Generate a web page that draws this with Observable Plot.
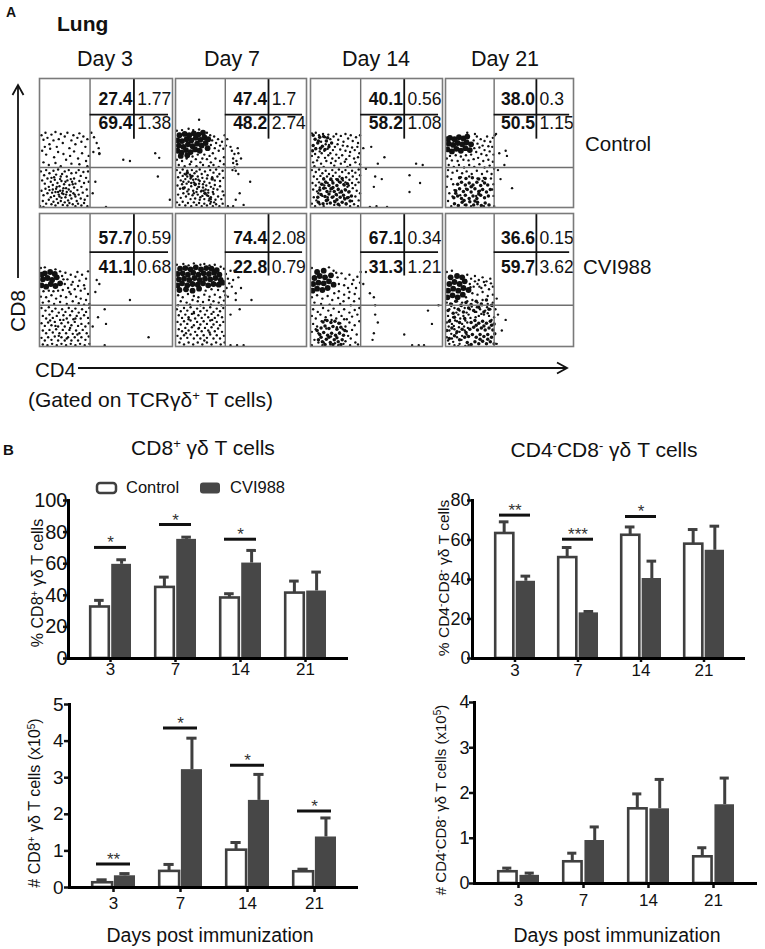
<!DOCTYPE html>
<html><head><meta charset="utf-8">
<script src="https://cdn.jsdelivr.net/npm/d3@7"></script>
<script src="https://cdn.jsdelivr.net/npm/@observablehq/plot@0.6"></script>
<style>
body{margin:0;background:#fff;}
#fig{position:relative;width:765px;height:949px;overflow:hidden;background:#fff;}
#fig svg{position:absolute;overflow:visible;}
</style></head><body><div id="fig"></div>
<script>
const FONT = '"Liberation Sans", Arial, Helvetica, sans-serif';
const NARROW = '"Liberation Sans Narrow", "Arial Narrow", "Liberation Sans", Arial, sans-serif';

// ---------- Panel A: flow cytometry quadrant percentages ----------
const dayLabels = ["Day 3", "Day 7", "Day 14", "Day 21"];
const controlTopLeft = ["27.4", "47.4", "40.1", "38.0"];
const controlTopRight = ["1.77", "1.7", "0.56", "0.3"];
const controlBottomLeft = ["69.4", "48.2", "58.2", "50.5"];
const controlBottomRight = ["1.38", "2.74", "1.08", "1.15"];
const cviTopLeft = ["57.7", "74.4", "67.1", "36.6"];
const cviTopRight = ["0.59", "2.08", "0.34", "0.15"];
const cviBottomLeft = ["41.1", "22.8", "31.3", "59.7"];
const cviBottomRight = ["0.68", "0.79", "1.21", "3.62"];

// dot clouds (CD4 on x, CD8 on y, 0-100 display units)
// cloud = single events, mid = dense speckle, core = near-solid clusters
const c3Core = [], c3Mid = [];
const c3Cloud = [[1.5,56],[3,52.5],[4.5,58],[6,54],[7.5,49],[9,56.5],[10.5,52],[12,58.5],[13,47],[14.5,53],[16,57],[17.5,50],[19,55],[21,58],[22.5,46],[24,52],[25.5,56],[27,49],[28.5,54],[30,57.5],[31.5,51],[33,55],[34.5,47],[36,53],[2,44],[5,41],[8,45.5],[11,39],[14,43],[18,41.5],[20,37],[23,40],[26,43.5],[29,38],[32,42],[35,36],[37,40],[3,35],[7,33],[12,34.5],[16,32],[24,34],[30,33.5],[36,32],[39,58],[41,54.5],[43,50],[44.5,46],[40.5,43],[45,41.5],[63,37],[68,36],[87,42],[90,38.5],[4,47],
[1,28],[3.5,25],[5,29],[7.5,26.5],[9,23],[10.5,28.5],[12.5,25.5],[14,29.5],[15.5,22],[17,26],[19,28],[20.5,24],[22,29],[24,26.5],[26,22.5],[27.5,27],[29.5,29],[31,24.5],[33,27.5],[35,23],[36.5,28],
[2,21],[4,18.5],[6,22.5],[7,16],[8.5,20],[10,17.5],[11.5,21.5],[12.5,14.5],[13.5,19],[15,16.5],[16.5,20.5],[17.5,13],[18.5,18],[20,15],[21,21],[22.5,17.5],[23.5,12.5],[24.5,20],[26,15.5],[27,18.5],[28.5,13.5],[30,20.5],[31.5,16],[33.5,19],[35.5,14],[37,20],
[1.5,13],[3,9.5],[4.5,14.5],[6,11],[7.5,13.5],[8.5,8],[9.5,11.5],[11,9],[12,12],[13,6.5],[14.5,10],[15.5,13],[16.5,7.5],[18,10.5],[19.5,8],[20.5,12],[21.5,5.5],[23,9.5],[24,7],[25.5,11],[27,8.5],[28,5],[29.5,10],[31,7],[32.5,11.5],[34,6],[36,9],
[2.5,5],[5,3],[7,6],[9,2.5],[10.5,4.5],[12,1.5],[14,3.5],[16,5],[17.5,2],[19,4],[21,1.5],[22.5,3.5],[25,2.5],[27,1],[29,3],[31.5,1.5],[33.5,3.5],[36,1],[0.5,1],[3,0.5],
[11,23.5],[16,24],[19.5,20],[14,12],[10,14],[22,14],[25,18],[18,15],[13,16],[20,10],[17,11],[15,8.5],[23.5,22],[26.5,10],
[42,20],[40,11],[50,0.5],[98,6],[89,24],[45,42]];

const c7Core = [[1.5,44],[4.5,42.5],[8,44.5],[11.5,43],[15,45],[18.5,44],[2.5,48],[6,47],[9.5,49],[13,47.5],[16.5,49.5],[20,48],[23,50],[1.5,52],[5,51.5],[8.5,53],[12,52],[15.5,54],[19,52.5],[22,54.5],[3,56],[7,57],[10.5,56],[14,57.5],[17.5,56.5],[21,58],[4,40],[9,40.5],[24.5,46],[25,53]];
const c7Mid = [[15,18],[12,24],[9,27],[22.5,11],[6,15],[28,22]];
const c7Cloud = [[1,59.5],[5,60],[10,61],[13.5,60],[18,60.5],[24,58],[26.5,56],[28,52],[27,48.5],[29.5,55],[31,50],[30,46],[32.5,53],[34,48],[33,44],[35.5,51],[36.5,45.5],[28.5,42],[26,40],[22,41],[17,41],[13,39.5],[20.5,38],[1,37],[5,36],[8.5,38],[12,35.5],[15.5,37.5],[19,35],[24,37.5],[27,35],[30.5,38],[34,36],[37,39],[2.5,33],[7,32],[11,33.5],[16,32],[21,33],[25.5,32],[29,33],[33,31.5],[37,33.5],[38.5,48],[37.5,56],[18,68],[39.5,53],
[43,44],[45,41.5],[44,38],[46.5,36],[47,33.5],[45,31],[48,42],[46,28.5],[50,38],[44,34.5],[42,47],[47.5,46],[43.5,29],
[1,29],[3.5,27],[5.5,29.5],[7,26],[9,28.5],[11,25.5],[12.5,29],[14.5,26.5],[16,28],[18.5,29.5],[20,26],[22.5,28],[24.5,25],[26.5,29],[29,27],[31,29.5],[33.5,26],[36,28.5],
[2,23.5],[4,21],[5.5,24.5],[7.5,22],[9,24],[10,20],[11.5,22.5],[13,24.5],[14,19.5],[15.5,22],[17,24],[18.5,20.5],[20.5,23],[22,20],[24,22.5],[26,19],[28,23.5],[30,21],[32,24],[34,20.5],[36.5,23],
[1.5,17],[3.5,14.5],[5,18],[7,15.5],[8.5,18.5],[10,14],[12,16.5],[13.5,13],[15,17.5],[16.5,14.5],[18,16],[19.5,12.5],[21,15.5],[22.5,11],[23.5,17],[25,13.5],[27,16],[28.5,12],[30,17.5],[32,14],[34,16.5],[36,12.5],
[2,10],[4,7.5],[6,11],[8,8.5],[10,10.5],[11.5,6.5],[13,9.5],[15,7],[17,10],[18.5,6],[20.5,9],[22,6.5],[24,9.5],[25.5,5.5],[27,8],[29,10.5],[30.5,6],[32.5,8.5],[35,6.5],[37,9.5],
[1,4],[3,2],[5.5,4.5],[7.5,1.5],[9.5,3.5],[12,1],[14,4],[16,2],[18,3.5],[20,1],[22,3],[24,1.5],[26.5,3],[28.5,1],[31,2.5],[33.5,1],[36,3],
[6,20],[12,19],[16,12],[21,18],[25,11.5],[19,8],[27,4.5],[23,14],[9,12.5],[14,11],[29,14.5],[17.5,21.5],[8,25.5],[13.5,21.5],[18,18.5],[21.5,13],[26,7],[20,13],[25,9],[17.5,16],[27,6.5],[29.5,4],
[57,20],[48,26],[46,6],[49,11],[40,1],[44,1],[52,2]];

const c14Core = [];
const c14Mid = [[2,48],[5.5,50],[9,47.5],[3.5,53],[7,54.5],[12,51.5],[16,50],[1.5,44],[4,45.5],[7.5,46],[11,45],[14,47],[2,56],[10,55],[6,51.5],[13,54],
[6,4],[9.5,3],[12,5.5],[15,3.5],[18.5,4.5],[21,2.5],[24,4],[27,3],[30,5],[5.5,8],[8,10],[11,8.5],[14,10.5],[16.5,8],[19.5,10],[22.5,8],[25,9.5],[28,7.5],[31,9],[7,13.5],[10,15],[12.5,12.5],[15.5,14.5],[18,12.5],[21,14],[23.5,12],[26.5,13.5],[29,12],[8.5,18],[11.5,19.5],[14,17],[17,19],[20,17],[22.5,19.5],[25.5,17.5],[28,18.5],[10,22],[15.5,22],[20.5,21.5],[24,22.5],[13,6],[20,6],[26,6.5],[17,15.5]];
const c14Cloud = [[1,57.5],[4,58],[6.5,56],[9.5,57],[11,54.5],[13.5,56.5],[15,53],[17.5,55],[19.5,57],[21,52.5],[23,55.5],[25,51],[26.5,57],[28.5,53.5],[30.5,56],[32,51.5],[34.5,54.5],[36,50],[37.5,56],[18.5,47],[20.5,49],[22.5,45],[24.5,48],[26.5,44],[28,47.5],[30,43],[31.5,46.5],[33.5,44.5],[35.5,47],[37,42],[10.5,44],[13,45.5],[15,42],[17,44.5],[19.5,41],[1,40],[3.5,41.5],[6,39],[8.5,42],[11,38.5],[13.5,40.5],[16.5,38],[21.5,38.5],[24,40.5],[27,37.5],[29.5,40],[33,38],[36,39],[2,35],[5,36.5],[8,34],[12,36],[15.5,34.5],[19,36],[23,34],[26,35.5],[30,33],[34,35],[37.5,33.5],[3,32],[10,31.5],[18,32.5],[28,31.5],[4,46],[7,43.5],[14,48.5],[11.5,49],[8,51],
[1,29],[4,27.5],[6.5,29.5],[9,26.5],[11.5,28.5],[14,26],[16.5,29],[19,27],[21.5,29.5],[24,27.5],[26.5,29],[29,26.5],[31.5,28.5],[34,27],[36.5,29.5],[2.5,24],[5,22],[7.5,24.5],[10,22.5],[12.5,24],[15,21.5],[17,24.5],[19.5,22],[22,24],[24.5,21],[27,23.5],[29.5,21.5],[32,24],[35,22],[37.5,25],[1.5,19],[4,17],[6.5,19.5],[9,18],[11.5,20],[16.5,20.5],[21.5,20],[26.5,19.5],[29,17],[31.5,19],[34,17.5],[36.5,19.5],[2,14],[5,12.5],[7,15.5],[11.5,15],[16.5,14.5],[21,14.5],[26,14],[29.5,12.5],[32,15],[35,13],[37.5,11],[2.5,8],[4.5,5.5],[9,9],[13,8],[17.5,8.5],[22,11.5],[25.5,7.5],[29,8],[31.5,5],[34,8.5],[36.5,5.5],[1,3],[3.5,1],[7,2.5],[10,1],[12.5,3],[18,2],[22,1.5],[27,2.5],[30,1],[33,2.5],[36,1],[6,11],[10.5,17],[15,12.5],[20,9.5],[23.5,13],[28,16],[13,19],[18,5],[25,18],
[40,46],[46,47],[56,39],[51,34],[49,24],[54,22],[48,16],[75,25],[83,19],[75,12],[80,34],[85,33],[45,0.5],[50,1],[58,0.5],[42,30]];

const c21Core = [[1.5,45],[5,43.5],[8.5,45.5],[12,44],[15.5,46],[19,44.5],[2.5,49.5],[6,48.5],[9.5,50],[13,49],[16.5,50.5],[20,49],[3.5,54],[7,53],[10.5,54.5],[14,53.5],[1.5,53],[17,55]];
const c21Mid = [[7,3],[10,1.5],[13,4],[16,2],[19,4.5],[22,2],[25,4],[28,1.5],[31,3.5],[34,2],[6.5,7.5],[9.5,9],[12.5,7],[15.5,9.5],[18.5,7],[21.5,9],[24.5,7],[27.5,9.5],[30.5,7.5],[33.5,9],[8,13],[11,14.5],[14,12.5],[17,14],[20,12],[23,14.5],[26,12.5],[29,14],[32,12],[35,14],[9.5,18],[12.5,19.5],[15.5,17.5],[18.5,19],[21.5,17.5],[24.5,19.5],[27.5,17],[30.5,19],[33,17.5],[11,23],[16,22.5],[21,23],[26,22],[31,22.5],[8,11],[14.5,5.5],[26,10.5],[20,16],[23,5]];
const c21Cloud = [[22,52],[24.5,55],[25,49.5],[27.5,53],[29,48],[30.5,51.5],[32.5,55],[33.5,47.5],[35,51],[37,54],[22.5,46],[24,43],[26.5,46.5],[28,41.5],[30.5,44.5],[32,40.5],[34.5,43.5],[36.5,47],[37.5,41],[20,41],[16,40.5],[12,39.5],[8,40.5],[3.5,40],[1,38],[5,36.5],[9.5,36],[14,37],[18,36.5],[22,37.5],[25.5,38.5],[29.5,36],[33.5,37],[37,35.5],[2.5,33],[6.5,31.5],[10.5,33],[14.5,31],[18.5,33],[22.5,31.5],[26.5,33.5],[30.5,31],[34.5,32.5],[38,30],[17,58],[23,57],[38.5,56],[2,29],[5.5,27],[9,28.5],[13,26.5],[16.5,28],[20.5,26],[24.5,28.5],[28.5,26],[32.5,28],[36,26],[1.5,24],[4.5,22],[6,18],[35.5,22.5],[37.5,18],[36.5,14],[37.5,9],[1,16],[3,11],[2,5],[4.5,1],[10,1.5],[15,2],[20,1],[25,2.5],[30,1],[34,2],[38,1],[12,23.5],[18.5,24],[25,22.5],[30,23],[7,13.5],[5.5,8.5],[20.5,16],[27,13],[16,14.5],[11.5,9.5],[24,9],[29,20.5],
[42,42],[47,44],[48,40],[46,33],[52,15],[43,22],[39.5,57],[41,29]];

const v3Core = [[1.5,46],[5,45],[8.5,47],[12,45.5],[15.5,47.5],[2.5,50.5],[6,51.5],[9.5,50],[13,52],[4,55],[8,56],[11.5,54.5],[1.5,54]];
const v3Mid = [];
const v3Cloud = [[1,59],[4,59.5],[12,58],[15.5,56.5],[17,53],[19.5,55.5],[21,50.5],[23.5,54],[25,48.5],[27,52.5],[28.5,56],[30,49.5],[32,54],[33.5,46],[35,51],[36.5,56.5],[19,47],[21.5,44],[24,46.5],[26.5,43],[29,45.5],[31,42],[34,43.5],[36.5,39.5],[17.5,42.5],[14,42],[10.5,41.5],[7,42],[3,41.5],[1,37.5],[5,37],[9,38.5],[12.5,36],[16,38],[20,37],[23.5,39.5],[27.5,37.5],[31,36],[35,35],[2.5,33],[7,34],[11,32],[15.5,33.5],[20.5,32],[25,34],[29.5,32.5],[33.5,31.5],[37.5,32],[22.5,41],[18,50.5],
[1.5,29],[4.5,27],[7,29.5],[9.5,26.5],[12,28.5],[14.5,25.5],[17,28],[19.5,26],[22,29],[24.5,26.5],[27,28.5],[29.5,25.5],[32,28],[35,26],[37.5,29],[2.5,23],[5,21],[7.5,24],[10,21.5],[13,23],[15.5,20],[18,23.5],[20.5,21],[23,23.5],[25.5,20.5],[28,23],[31,21],[33.5,23.5],[36.5,21.5],[1.5,17.5],[4,15.5],[6.5,18],[9,16],[11.5,18.5],[14,15],[16.5,17.5],[19,15],[21.5,18],[24,16],[26.5,18.5],[29,15.5],[31.5,17],[34.5,15],[37,17.5],[2.5,12],[5,10],[7.5,12.5],[10,10.5],[12.5,13],[15,10],[17.5,12.5],[20,10],[22.5,12.5],[25,9.5],[27.5,12],[30,10],[32.5,12.5],[35.5,10],[1.5,6.5],[4,4.5],[6.5,7],[9,5],[11.5,7.5],[14,4.5],[16.5,7],[19,4.5],[21.5,7],[24,4.5],[26.5,7],[29,4.5],[31.5,7],[34.5,5],[37,7.5],[2.5,1.5],[6,1],[9.5,2],[13,1],[16.5,2],[20,1],[23.5,2],[27,1],[30.5,2],[34,1],[37.5,2],[8,19.5],[12,15.5],[18,20],[23,14],[27,21],[20.5,6],[14.5,8],[28.5,9],
[43,50],[42,41],[45,47],[49,28],[50,17],[68,35],[82,7],[49,1],[40,15],[44,22]];

const v7Core = [[1.5,46],[5,47.5],[9,46],[13,47],[17,46.5],[21,47.5],[25,46],[29,47],[33,46.5],[2.5,50.5],[6.5,51],[10.5,50],[14.5,51.5],[18.5,50],[22.5,51],[26.5,50.5],[30.5,51.5],[34.5,50],[1.5,54.5],[5.5,55],[9.5,54],[13.5,55.5],[17.5,54],[21.5,55],[25.5,54.5],[29.5,55.5],[33.5,54],[3.5,58.5],[7.5,59],[11.5,58],[15.5,59.5],[19.5,58],[23.5,59],[27.5,58.5],[31.5,57.5],[3,42.5],[8,43],[13,42],[18,43.5],[36,48]];
const v7Mid = [];
const v7Cloud = [[1,61.5],[6,62],[10,61],[14,62.5],[19,61.5],[22,62],[26,61],[30,61.5],[34.5,60],[37,58.5],[38.5,54.5],[40,51],[41,47.5],[39,44],[42,57],[23,42],[27.5,43],[32.5,42.5],[37,41.5],[2,38.5],[5.5,37],[9.5,39.5],[14,38],[17.5,37],[22,39],[26,37.5],[30,39],[34,37],[38,38.5],[4,34],[8.5,33],[13,35],[17,34],[21,33.5],[25.5,35],[29,34],[33,33],[37,34.5],[2,31],[11,31.5],[19,31],[27,31.5],[35,31],[44,50],[46,40],[43,45],[50,44],[48,52],[45,57],[40,37.5],
[1,28],[4,26.5],[6.5,29],[9,27],[11.5,29.5],[14,26],[16.5,28.5],[19,26.5],[21.5,29],[24,27],[26.5,29.5],[29,26],[31.5,28.5],[34,26.5],[36.5,29],[2.5,23.5],[5,21.5],[7.5,24],[10,22],[12.5,24.5],[15,21],[17.5,23.5],[20,21.5],[22.5,24],[25,22],[27.5,24.5],[30,21.5],[32.5,23.5],[35.5,22],[1.5,18.5],[4,16.5],[6.5,19],[9,17],[11.5,19.5],[14,16],[16.5,18.5],[19,16.5],[21.5,19],[24,17],[26.5,19.5],[29,16.5],[31.5,18.5],[34,16],[36.5,18.5],[2.5,13],[5,11.5],[7.5,14],[10,12],[12.5,14.5],[15,11],[17.5,13.5],[20,11.5],[22.5,14],[25,12],[27.5,14.5],[30,11.5],[32.5,13.5],[35.5,11],[1.5,8],[4,6],[6.5,8.5],[9,6.5],[11.5,9],[14,6],[16.5,8.5],[19,6],[21.5,8.5],[24,6.5],[26.5,9],[29,6],[31.5,8.5],[34,6],[37,8],[3,3],[6.5,1.5],[10,3],[13.5,1.5],[17,3],[20.5,1.5],[24,3],[27.5,1.5],[31,3],[34.5,1.5],[37.5,3],[10,20.5],[18,14],[26,10.5],[14,25],[22,4.5],[8,10],[28,20],
[46,35],[49,28],[58,35],[42,1],[47,1],[52,1],[42,24]];

const v14Core = [[1.5,42],[5,43.5],[9,42.5],[13,44],[2,47],[6,48],[10,47.5],[14,49],[3,51.5],[7,53],[11,52],[15.5,53.5],[5,56],[10,57],[17.5,46.5]];
const v14Mid = [[6,5],[9,3.5],[12,5.5],[15,3],[18,5],[21,3.5],[24,5],[7,9],[10,10.5],[13,8.5],[16,10],[19,8.5],[22,10],[25,8.5],[8,14],[11,15.5],[14,13.5],[17,15],[20,13],[23,14.5],[9.5,18.5],[12.5,19.5],[15.5,18],[18.5,19],[21.5,17.5],[5,12],[11,1.5],[17,1.5],[23,1.5],[14,7],[20,6.5],[26,12],[8,7]];
const v14Cloud = [[1,59],[14,59.5],[17.5,57],[20.5,52],[23.5,55],[26.5,51],[29.5,54],[32.5,50],[35.5,52.5],[21.5,47],[25.5,46],[28.5,44],[31.5,47],[34.5,44],[37.5,48],[18,40],[21.5,41.5],[25.5,39],[29.5,41],[33.5,39.5],[1,37],[5,38.5],[9,36],[13,38],[16.5,35],[21,36.5],[25,34],[29,36.5],[33,34],[37,36],[3,33],[8,32],[14.5,31.5],[22.5,32],[30.5,31],[38,56],[19.5,55.5],
[2,28],[5.5,26],[9.5,29],[13.5,27],[17.5,28.5],[21.5,26],[25.5,28],[29.5,25.5],[33.5,27.5],[37,29],[1,23],[4,21],[7.5,24],[11.5,22],[15.5,23.5],[19.5,21],[23.5,23],[27.5,20.5],[31.5,22.5],[35.5,24],[2,17],[5,15],[8.5,19],[22.5,17.5],[26.5,15],[29.5,18],[33.5,16],[37,19],[1,11],[4,13],[27.5,11.5],[31.5,12.5],[35,9],[3,5],[6,3],[26.5,4],[30.5,6],[34,3],[1,1],[9,1],[15,1.5],[21,1],[25,2],[30,1],[36,1.5],[11,20],[25.5,20.5],[28.5,8],[16,20],[20,14.5],[24.5,13],[6,10],[12,13.5],[15.5,7.5],[10,3],[18.5,2.5],[22,10.5],
[40,47],[48,37],[49,31],[49,24],[51,18],[48,10],[47,5],[71,9],[92,17],[89,27],[97,31],[77,1],[82,1],[86,1],[42,56],[45,40]];

const v21Core = [[1.5,37],[5.5,38.5],[9.5,37],[13.5,39],[2,42],[6,43.5],[10,42],[14,44],[18,42.5],[3,47],[7,48.5],[11,47],[15,49],[4,52],[9,53],[13,52]];
const v21Mid = [[17,3],[20,1.5],[23,3.5],[26,2],[29,4],[32,2],[35,3.5],[38,2],[18,7.5],[21,9],[24,7],[27,9],[30,7.5],[33,9],[36,7],[38.5,9.5],[19,13],[22,14.5],[25,12.5],[28,14],[31,12.5],[34,14],[37,12.5],[20,18],[23,19.5],[26,17.5],[29,19],[32,17.5],[35,19],[38,17],[16,10.5],[27,5.5],[33,5.5],[24,16],[30,15.5],[36,16],
[2,27],[6,25],[10,28],[14,26],[18,29],[22,27],[26,29.5],[30,26],[34,28],[4,32],[8,34],[12,31],[16,33],[20,31.5],[24,34],[28,32],[32,35],[36,31],[3,19],[7,22],[11,18],[15,21],[1,12],[5,14],[9,11],[13,13],[3,6],[7,8],[11,5],[15,7]];
const v21Cloud = [[1,56],[5,57],[17,54],[20,51],[23,53],[26,50],[29,52],[32,49],[35,51],[19,47],[22,45],[25,47],[28,44],[31,46],[34,43],[37,45],[21,40],[25,39],[29,41],[33,38],[37,39],[1,33],[5,32],[9,34],[13,33],[17,34],[21,35],[25,33],[29,35],[33,32],[37,33],[3,28],[7,29],[11,27],[15,29],[19,28],[23,26],[27,28],[31,27],[35,28],[2,23],[6,22],[10,24],[14,23],[18,24],[26,23],[30,24],[34,23],[38,22],[1,18],[5,17],[9,19],[13,17],[17,18],[3,12],[7,13],[11,11],[15,12],[1,7],[5,6],[9,7],[13,8],[3,2],[7,1],[11,2],[18,1],[40,36],[47,20],[44,12],[41,24],[40,2],[39,28],
[4.5,30.5],[8.5,25.5],[12.5,30.5],[16.5,25.5],[20.5,30],[24.5,29.5],[28.5,31],[32.5,29.5],[36.5,30.5],[3.5,20],[7.5,19.5],[11.5,21],[15.5,19.5],[19.5,21.5],[23.5,22],[2.5,15],[6.5,15.5],[10.5,14.5],[14.5,15],[17.5,14],[4.5,9.5],[8.5,10],[12.5,5],[16.5,9],[2,4.5],[6,3.5],[10,0.5],[15.5,0.5],[24,26],[28,24.5],[33,25],[36,20],[16,37],[19.5,44.5],[23,49],[26.5,45],[30,48.5],[35.5,47.5]];

// ---------- Panel B: bar chart values (mean and SEM) ----------
const days = ["3", "7", "14", "21"];
const pctCD8Control = [32.6, 45.0, 38.3, 41.4];
const pctCD8ControlSem = [4.2, 6.5, 2.7, 7.6];
const pctCD8Cvi = [59.6, 75.4, 60.4, 42.7];
const pctCD8CviSem = [2.9, 1.4, 8.0, 12.0];
const pctDNControl = [63.3, 51.1, 62.4, 57.9];
const pctDNControlSem = [5.9, 5.1, 4.2, 7.4];
const pctDNCvi = [39.1, 23.1, 40.5, 54.8];
const pctDNCviSem = [2.6, 0.7, 8.8, 12.2];
const numCD8Control = [0.13, 0.44, 1.02, 0.43];
const numCD8ControlSem = [0.08, 0.19, 0.21, 0.07];
const numCD8Cvi = [0.32, 3.22, 2.38, 1.38];
const numCD8CviSem = [0.06, 0.86, 0.71, 0.52];
const numDNControl = [0.26, 0.48, 1.65, 0.59];
const numDNControlSem = [0.08, 0.19, 0.33, 0.20];
const numDNCvi = [0.18, 0.95, 1.65, 1.74];
const numDNCviSem = [0.05, 0.30, 0.65, 0.59];

const sigPctCD8Days = ["3", "7", "14"], sigPctCD8Y = [70.3, 84.8, 75.5], sigPctCD8Text = ["*", "*", "*"];
const sigPctDNDays = ["3", "7", "14"], sigPctDNY = [72.6, 60.4, 71.9], sigPctDNText = ["**", "***", "*"];
const sigNumCD8Days = ["3", "7", "14", "21"], sigNumCD8Y = [0.64, 4.36, 3.34, 2.09], sigNumCD8Text = ["**", "*", "*", "*"];

const fig = document.getElementById("fig");
function place(el, left, top) {
  el.style.position = "absolute";
  el.style.left = left + "px";
  el.style.top = top + "px";
  fig.appendChild(el);
}

// ---------- flow panels ----------
function flowPanel(cloud, mid, core, tl, tr, bl, br, w, h, row) {
  const g = row === 0 ? {line: 72, top: 79.5, bot: 60.5} : {line: 71, top: 77, bot: 55.5};
  const px = {x: d => d[0], y: d => d[1], fill: "#111", stroke: null, clip: true};
  return Plot.plot({
    width: w, height: h, margin: 0,
    x: {domain: [0, 100], axis: null},
    y: {domain: [0, 100], axis: null},
    style: {fontFamily: FONT, background: "transparent"},
    marks: [
      Plot.dot(cloud, {...px, r: 1.2}),
      Plot.dot(mid, {...px, r: 1.75}),
      Plot.dot(core, {...px, r: 2.9}),
      Plot.ruleX([38], {stroke: "#6f6f6f", strokeWidth: 1.4}),
      Plot.ruleY([31], {stroke: "#6f6f6f", strokeWidth: 1.4}),
      Plot.ruleX([71], {y1: 53, y2: 100, stroke: "#111", strokeWidth: 1.8}),
      Plot.ruleY([g.line], {x1: 38, x2: 97, stroke: "#111", strokeWidth: 1.8}),
      Plot.text([tl], {x: 70, y: g.top, text: d => d, textAnchor: "end", lineAnchor: "bottom", fontWeight: "bold", fontSize: 17.5, fill: "#111"}),
      Plot.text([bl], {x: 70, y: g.bot, text: d => d, textAnchor: "end", lineAnchor: "bottom", fontWeight: "bold", fontSize: 17.5, fill: "#111"}),
      Plot.text([tr], {x: 73.5, y: g.top, text: d => d, textAnchor: "start", lineAnchor: "bottom", fontSize: 17.5, fill: "#111"}),
      Plot.text([br], {x: 73.5, y: g.bot, text: d => d, textAnchor: "start", lineAnchor: "bottom", fontSize: 17.5, fill: "#111"}),
      Plot.frame({stroke: "#7a7a7a", strokeWidth: 1.6})
    ]
  });
}
const colLeft = [39, 175, 310, 445];
const colWidth = [133, 131, 132, 128];
const ctrlClouds = [c3Cloud, c7Cloud, c14Cloud, c21Cloud];
const ctrlMids = [c3Mid, c7Mid, c14Mid, c21Mid];
const ctrlCores = [c3Core, c7Core, c14Core, c21Core];
const cviClouds = [v3Cloud, v7Cloud, v14Cloud, v21Cloud];
const cviMids = [v3Mid, v7Mid, v14Mid, v21Mid];
const cviCores = [v3Core, v7Core, v14Core, v21Core];
for (let i = 0; i < 4; i++) {
  place(flowPanel(ctrlClouds[i], ctrlMids[i], ctrlCores[i], controlTopLeft[i], controlTopRight[i], controlBottomLeft[i], controlBottomRight[i], colWidth[i], 129, 0), colLeft[i], 78);
  place(flowPanel(cviClouds[i], cviMids[i], cviCores[i], cviTopLeft[i], cviTopRight[i], cviBottomLeft[i], cviBottomRight[i], colWidth[i], 133, 1), colLeft[i], 213);
}

// ---------- bar charts ----------
function barChart(o) {
  const data = days.map((d, i) => ({day: d, ctrl: o.ctrl[i], ce: o.ctrl[i] + o.ctrlSem[i], cvi: o.cvi[i], ve: o.cvi[i] + o.cviSem[i]}));
  const sig = o.sigDays ? o.sigDays.map((d, i) => ({day: d, y: o.sigY[i], t: o.sigText[i]})) : [];
  const pi = 0.35, po = 0.32;
  const pw = o.width - o.ml - o.mr;
  const step = pw / (4 - pi + 2 * po);
  const bw = step * (1 - pi);
  const half = bw / 2;
  const cC = (half - 1) / 2;            // control bar centre within band
  const vC = (half + 1 + bw) / 2;       // CVI bar centre within band
  const dark = "#3f3f3f";
  return Plot.plot({
    width: o.width, height: o.height,
    marginLeft: o.ml, marginRight: o.mr, marginTop: o.mt, marginBottom: o.mb,
    x: {domain: days, paddingInner: pi, paddingOuter: po, label: null},
    y: {domain: [0, o.yMax], label: null},
    style: {fontFamily: FONT, fontSize: "17px", color: "#111", background: "transparent"},
    marks: [
      Plot.ruleX(data, {x: "day", y1: "ctrl", y2: "ce", dx: cC - bw / 2, stroke: dark, strokeWidth: 3}),
      Plot.tickY(data, {x: "day", y: "ce", insetLeft: cC - 5, insetRight: bw - cC - 5, stroke: dark, strokeWidth: 3}),
      Plot.ruleX(data, {x: "day", y1: "cvi", y2: "ve", dx: vC - bw / 2, stroke: dark, strokeWidth: 3}),
      Plot.tickY(data, {x: "day", y: "ve", insetLeft: vC - 5, insetRight: bw - vC - 5, stroke: dark, strokeWidth: 3}),
      Plot.barY(data, {x: "day", y: "ctrl", insetLeft: 1.2, insetRight: half + 1, fill: "white", stroke: dark, strokeWidth: 2.6}),
      Plot.barY(data, {x: "day", y: "cvi", insetLeft: half + 1, fill: "#474747"}),
      Plot.tickY(sig, {x: "day", y: "y", insetLeft: 5, insetRight: 5, stroke: "#111", strokeWidth: 3}),
      Plot.text(sig, {x: "day", y: "y", text: "t", lineAnchor: "bottom", dy: 1, fontSize: 17, fill: "#333"}),
      Plot.axisX({tickSize: o.xTickSize, tickPadding: o.xTickPad, fontSize: 17, strokeWidth: 2.5, label: null}),
      Plot.axisY({ticks: o.yTicks, tickFormat: d3.format("d"), tickSize: 5, tickPadding: o.yTickPad, fontSize: o.yFontSize, fontFamily: o.yFont, strokeWidth: 2.5, label: null}),
      Plot.ruleY([0], {stroke: "#000", strokeWidth: 3}),
      Plot.frame({anchor: "left", stroke: "#000", strokeWidth: 3})
    ]
  });
}

place(barChart({ctrl: pctCD8Control, ctrlSem: pctCD8ControlSem, cvi: pctCD8Cvi, cviSem: pctCD8CviSem, yMax: 100, yTicks: [0, 20, 40, 60, 80, 100],
  sigDays: sigPctCD8Days, sigY: sigPctCD8Y, sigText: sigPctCD8Text, yFont: NARROW, yFontSize: 20,
  width: 365, height: 200, ml: 68, mr: 17, mt: 10, mb: 32, xTickSize: 4, xTickPad: 0, yTickPad: -4}), 0, 490);
place(barChart({ctrl: pctDNControl, ctrlSem: pctDNControlSem, cvi: pctDNCvi, cviSem: pctDNCviSem, yMax: 80, yTicks: [0, 20, 40, 60, 80],
  sigDays: sigPctDNDays, sigY: sigPctDNY, sigText: sigPctDNText, yFont: FONT, yFontSize: 18,
  width: 380, height: 200, ml: 87, mr: 20, mt: 10, mb: 32, xTickSize: 4, xTickPad: 1, yTickPad: -3}), 385, 490);
place(barChart({ctrl: numCD8Control, ctrlSem: numCD8ControlSem, cvi: numCD8Cvi, cviSem: numCD8CviSem, yMax: 5, yTicks: [0, 1, 2, 3, 4, 5],
  sigDays: sigNumCD8Days, sigY: sigNumCD8Y, sigText: sigNumCD8Text, yFont: FONT, yFontSize: 19,
  width: 370, height: 228, ml: 69, mr: 12, mt: 10, mb: 35, xTickSize: 5, xTickPad: 4, yTickPad: 1}), 0, 694);
place(barChart({ctrl: numDNControl, ctrlSem: numDNControlSem, cvi: numDNCvi, cviSem: numDNCviSem, yMax: 4, yTicks: [0, 1, 2, 3, 4], yFont: FONT, yFontSize: 18,
  width: 380, height: 226, ml: 89, mr: 8, mt: 10, mb: 35, xTickSize: 5, xTickPad: 5, yTickPad: 0}), 385, 692);

// ---------- text overlay ----------
const sup = (s, fs) => `<tspan baseline-shift="super" font-size="${fs}">${s}</tspan>`;
const ov = document.createElementNS("http://www.w3.org/2000/svg", "svg");
ov.setAttribute("width", 765); ov.setAttribute("height", 949);
ov.style.pointerEvents = "none";
const dayX = [105, 232, 376, 505];
ov.innerHTML = `
<g font-family='${FONT}' fill="#111">
  <text x="6" y="17" font-size="14" font-weight="bold">A</text>
  <text x="57" y="31" font-size="21" font-weight="bold">Lung</text>
  ${dayLabels.map((t, i) => `<text x="${dayX[i]}" y="66" font-size="21.5" text-anchor="middle">${t}</text>`).join("")}
  <text x="585" y="151" font-size="20.5">Control</text>
  <text x="583" y="274" font-size="20.5">CVI988</text>
  <text transform="translate(25,311) rotate(-90)" font-size="21" text-anchor="middle">CD8</text>
  <line x1="18" y1="278" x2="18" y2="85" stroke="#111" stroke-width="1.8"/>
  <path d="M12.5,95 L18,85 L23.5,95" fill="none" stroke="#111" stroke-width="1.8"/>
  <text x="35" y="377" font-size="20.5">CD4</text>
  <line x1="78" y1="368" x2="567" y2="368" stroke="#111" stroke-width="1.8"/>
  <path d="M557,362.5 L567,368 L557,373.5" fill="none" stroke="#111" stroke-width="1.8"/>
  <text x="28" y="407" font-size="21">(Gated on TCRγδ${sup("+", 13)} T cells)</text>
  <text x="3" y="455" font-size="15" font-weight="bold">B</text>
  <text x="203" y="455" font-size="21" text-anchor="middle">CD8${sup("+", 13)} γδ T cells</text>
  <text x="604" y="457" font-size="21" text-anchor="middle">CD4${sup("-", 13)}CD8${sup("-", 13)} γδ T cells</text>
  <rect x="97" y="483" width="19" height="10" rx="3" fill="white" stroke="#3f3f3f" stroke-width="2.5"/>
  <text x="126" y="493" font-size="16.5">Control</text>
  <rect x="200" y="482.5" width="20" height="11" rx="3" fill="#474747"/>
  <text x="230" y="493" font-size="16.5">CVI988</text>
  <text transform="translate(43,583) rotate(-90)" font-size="16" text-anchor="middle">% CD8${sup("+", 10)} γδ T cells</text>
  <text transform="translate(449,578) rotate(-90)" font-size="15.5" text-anchor="middle">% CD4${sup("-", 10)}CD8${sup("-", 10)} γδ T cells</text>
  <text transform="translate(40,803) rotate(-90)" font-size="16" text-anchor="middle"># CD8${sup("+", 10)} γδ T cells (x10${sup("5", 10)})</text>
  <text transform="translate(446,800) rotate(-90)" font-size="15" text-anchor="middle"># CD4${sup("-", 10)}CD8${sup("-", 10)} γδ T cells (x10${sup("5", 10)})</text>
  <text x="210" y="942" font-size="19.5" text-anchor="middle">Days post immunization</text>
  <text x="617" y="942" font-size="19.5" text-anchor="middle">Days post immunization</text>
</g>`;
place(ov, 0, 0);
</script></body></html>
